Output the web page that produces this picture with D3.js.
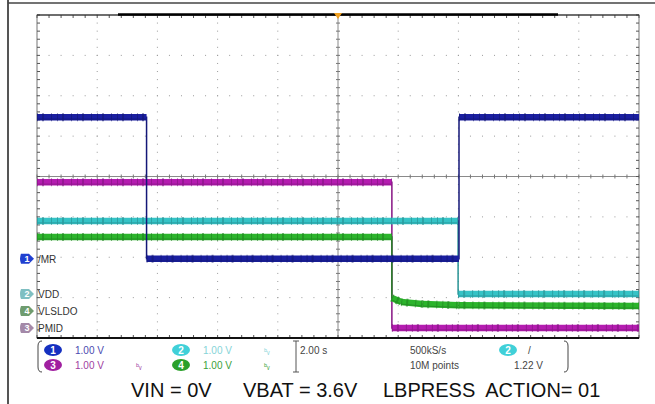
<!DOCTYPE html>
<html>
<head>
<meta charset="utf-8">
<script src="https://cdn.jsdelivr.net/npm/d3@7"></script>
<style>
  body { margin: 0; background: #fff; }
  svg { display: block; }
  text { white-space: pre; }
</style>
</head>
<body>
<svg id="scope"></svg>
<script>
// scope settings
var timePerDiv = 2;      // s/div
var voltsPerDiv = 1;     // V/div, all four channels

// trace points : time (s) and volts, per channel
var ch1Times = [-10, -6.36, -6.36, 4.02, 4.02, 10];
var ch1Volts = [3.51, 3.51, 0, 0, 3.51, 3.51];
var ch2Times = [-10, 3.99, 3.99, 10];
var ch2Volts = [1.81, 1.81, 0, 0];
var ch3Times = [-10, 1.79, 1.79, 10];
var ch3Volts = [3.61, 3.61, 0, 0];
var ch4Times = [-10, 1.79, 1.79, 2.1, 2.8, 4.0, 10];
var ch4Volts = [1.83, 1.83, 0.32, 0.22, 0.17, 0.14, 0.12];

// ground markers (divisions from centre) and names
var channelIds = [1, 2, 4, 3];
var channelNames = ["/MR", "VDD", "VLSLDO", "PMID"];
var channelOffsets = [-2.04, -2.91, -3.33, -3.75];

var captions = ["VIN = 0V", "VBAT = 3.6V", "LBPRESS  ACTION= 01"];

var W = 655, H = 404;
var svg = d3.select("#scope").attr("width", W).attr("height", H);

var pL = 37, pR = 639, pT = 15, pB = 338;
var x = d3.scaleLinear().domain([-5 * timePerDiv, 5 * timePerDiv]).range([pL, pR]);
var y = d3.scaleLinear().domain([-4, 4]).range([pB, pT]);

var colors = {1: "#1a1fa0", 2: "#35c3c6", 3: "#b41cb0", 4: "#2cb42c"};
var pale = {1: "#2040d0", 2: "#7fbfc2", 3: "#a489a8", 4: "#6f9c6f"};
var txtCol = {1: "#4a4ab0", 2: "#86d4d8", 3: "#a040a0", 4: "#3a9f3a"};

// outer frame of the screenshot
svg.append("line").attr("x1", 8).attr("x2", 8).attr("y1", 0).attr("y2", H)
    .attr("stroke", "#555").attr("stroke-width", 2);
svg.append("line").attr("x1", 8).attr("x2", W).attr("y1", 3).attr("y2", 3)
    .attr("stroke", "#444").attr("stroke-width", 1.5);

// graticule dots
var g = svg.append("g");
var majX = d3.range(-4, 5).filter(function(d){ return d != 0; });
var majY = d3.range(-3, 4).filter(function(d){ return d != 0; });
var minorY = d3.range(-4, 4.01, 0.2);
var minorX = d3.range(-5, 5.01, 0.2);
majX.forEach(function(dx){
    g.selectAll(null).data(minorY).enter().append("rect")
        .attr("x", x(dx * timePerDiv) - 0.5).attr("y", function(d){ return y(d) - 0.5; })
        .attr("width", 1).attr("height", 1).attr("fill", "#9a9a9a");
});
majY.forEach(function(dy){
    g.selectAll(null).data(minorX).enter().append("rect")
        .attr("x", function(d){ return x(d * timePerDiv) - 0.5; }).attr("y", y(dy) - 0.5)
        .attr("width", 1).attr("height", 1).attr("fill", "#9a9a9a");
});

// centre axes with ticks
g.append("line").attr("x1", pL).attr("x2", pR).attr("y1", y(0)).attr("y2", y(0))
    .attr("stroke", "#8a8a8a").attr("stroke-width", 1);
g.append("line").attr("x1", x(0)).attr("x2", x(0)).attr("y1", pT).attr("y2", pB)
    .attr("stroke", "#8a8a8a").attr("stroke-width", 1);
g.selectAll(null).data(minorX).enter().append("line")
    .attr("x1", function(d){ return x(d * timePerDiv); }).attr("x2", function(d){ return x(d * timePerDiv); })
    .attr("y1", y(0) - 2).attr("y2", y(0) + 2).attr("stroke", "#777");
g.selectAll(null).data(minorY).enter().append("line")
    .attr("y1", function(d){ return y(d); }).attr("y2", function(d){ return y(d); })
    .attr("x1", x(0) - 2).attr("x2", x(0) + 2).attr("stroke", "#777");

// border with inner ticks
g.append("rect").attr("x", pL).attr("y", pT).attr("width", pR - pL).attr("height", pB - pT)
    .attr("fill", "none").attr("stroke", "#777").attr("stroke-width", 1);
g.selectAll(null).data(minorY).enter().append("line")
    .attr("y1", function(d){ return y(d); }).attr("y2", function(d){ return y(d); })
    .attr("x1", pL).attr("x2", pL + 3).attr("stroke", "#555");
g.selectAll(null).data(minorY).enter().append("line")
    .attr("y1", function(d){ return y(d); }).attr("y2", function(d){ return y(d); })
    .attr("x1", pR - 3).attr("x2", pR).attr("stroke", "#555");
g.selectAll(null).data(minorX).enter().append("line")
    .attr("x1", function(d){ return x(d * timePerDiv); }).attr("x2", function(d){ return x(d * timePerDiv); })
    .attr("y1", pT).attr("y2", pT + 3).attr("stroke", "#555");
g.selectAll(null).data(minorX).enter().append("line")
    .attr("x1", function(d){ return x(d * timePerDiv); }).attr("x2", function(d){ return x(d * timePerDiv); })
    .attr("y1", pB - 3).attr("y2", pB).attr("stroke", "#555");
g.append("line").attr("x1", pL).attr("x2", pR).attr("y1", pT).attr("y2", pT)
    .attr("stroke", "#222").attr("stroke-width", 1.2);
g.append("line").attr("x1", pL).attr("x2", pR).attr("y1", pB).attr("y2", pB)
    .attr("stroke", "#111").attr("stroke-width", 2);

// record view bar and trigger marker
svg.append("line").attr("x1", 118).attr("x2", 558).attr("y1", pT - 0.5).attr("y2", pT - 0.5)
    .attr("stroke", "#000").attr("stroke-width", 2.5);
svg.append("path")
    .attr("d", "M" + (x(0) - 4) + "," + (pT - 2) + "L" + (x(0) + 4) + "," + (pT - 2) + "L" + x(0) + "," + (pT + 4) + "Z")
    .attr("fill", "#f0a020");

// traces
var traces = [
    {id: 3, t: ch3Times, v: ch3Volts, off: -3.75},
    {id: 4, t: ch4Times, v: ch4Volts, off: -3.33},
    {id: 2, t: ch2Times, v: ch2Volts, off: -2.91},
    {id: 1, t: ch1Times, v: ch1Volts, off: -2.04}
];
var line = d3.line().x(function(d){ return x(d[0]); }).y(function(d){ return y(d[1]); });
var tg = svg.append("g");
traces.forEach(function(tr){
    var pts = tr.t.map(function(t, i){ return [t, tr.off + tr.v[i] / voltsPerDiv]; });
    // thin full trace (edges)
    tg.append("path").attr("d", line(pts)).attr("fill", "none")
        .attr("stroke", d3.color(colors[tr.id]).darker(0.8)).attr("stroke-width", 1.5);
    // thick noisy bands on the flat parts
    for (var i = 0; i < pts.length - 1; i++) {
        if (pts[i][0] == pts[i + 1][0]) continue;
        var seg = [pts[i], pts[i + 1]];
        tg.append("path").attr("d", line(seg)).attr("fill", "none")
            .attr("stroke", colors[tr.id]).attr("stroke-width", 6.5);
        tg.append("path").attr("d", line(seg)).attr("fill", "none")
            .attr("stroke", d3.color(colors[tr.id]).darker(1)).attr("stroke-width", 8)
            .attr("stroke-dasharray", "1,4,2,7,1,5").attr("opacity", 0.55);
        tg.append("path").attr("d", line(seg)).attr("fill", "none")
            .attr("stroke", d3.color(colors[tr.id]).darker(0.6)).attr("stroke-width", 1)
            .attr("transform", "translate(0,2)");
    }
});

// channel ground markers on the left
var mk = svg.append("g");
channelIds.forEach(function(id, i){
    var yy = y(channelOffsets[i]);
    var x0 = 19;
    mk.append("path")
        .attr("d", "M" + (x0 + 2) + "," + (yy - 5) + "L" + (x0 + 10) + "," + (yy - 5) + "L" + (x0 + 15) + "," + yy +
            "L" + (x0 + 10) + "," + (yy + 5) + "L" + (x0 + 2) + "," + (yy + 5) + "Q" + x0 + "," + yy + " " + (x0 + 2) + "," + (yy - 5) + "Z")
        .attr("fill", pale[id]);
    mk.append("text").attr("x", x0 + 8).attr("y", yy + 3.5).attr("text-anchor", "middle")
        .attr("font-family", "Liberation Sans, Arial").attr("font-size", 9).attr("font-weight", "bold")
        .attr("fill", "#fff").text(id);
    mk.append("text").attr("x", pL + 1).attr("y", yy + 4)
        .attr("font-family", "Liberation Sans, Arial").attr("font-size", 10)
        .attr("fill", "#333").text(channelNames[i]);
});

// readout area
var rd = svg.append("g").attr("font-family", "Liberation Sans, Arial").attr("font-size", 10);
function bracket(xp, dir){
    rd.append("path")
        .attr("d", "M" + (xp + 4 * dir) + ",341 Q" + xp + ",341 " + xp + ",346 L" + xp + ",367 Q" + xp + ",372 " + (xp + 4 * dir) + ",372")
        .attr("fill", "none").attr("stroke", "#444").attr("stroke-width", 1);
}
bracket(38, 1);
bracket(568, -1);
function badge(cx, cy, id, fill){
    rd.append("ellipse").attr("cx", cx).attr("cy", cy).attr("rx", 9).attr("ry", 6).attr("fill", fill);
    rd.append("text").attr("x", cx).attr("y", cy + 4).attr("text-anchor", "middle")
        .attr("fill", "#fff").attr("font-weight", "bold").text(id);
}
var scaleText = d3.format(".2f")(voltsPerDiv) + " V";
badge(53, 350, 1, "#1530c0");
rd.append("text").attr("x", 75).attr("y", 354).attr("fill", txtCol[1]).text(scaleText);
badge(53, 365, 3, "#a020a0");
rd.append("text").attr("x", 75).attr("y", 369).attr("fill", txtCol[3]).text(scaleText);
rd.append("text").attr("x", 136).attr("y", 369).attr("fill", txtCol[3]).attr("font-size", 8).text("ᵇᵥ");
badge(181, 350, 2, "#40d0d8");
rd.append("text").attr("x", 203).attr("y", 354).attr("fill", txtCol[2]).text(scaleText);
rd.append("text").attr("x", 264).attr("y", 354).attr("fill", txtCol[2]).attr("font-size", 8).text("ᵇᵥ");
badge(181, 365, 4, "#2aa02a");
rd.append("text").attr("x", 203).attr("y", 369).attr("fill", txtCol[4]).text(scaleText);
rd.append("text").attr("x", 264).attr("y", 369).attr("fill", txtCol[4]).attr("font-size", 8).text("ᵇᵥ");

// timebase divider
rd.append("path").attr("d", "M293,341 L299,341 M296,341 L296,372 M293,372 L299,372")
    .attr("fill", "none").attr("stroke", "#555").attr("stroke-width", 1);
rd.append("text").attr("x", 300).attr("y", 354).attr("fill", "#444").text(d3.format(".2f")(timePerDiv) + " s");
rd.append("text").attr("x", 410).attr("y", 354).attr("fill", "#444").text("500kS/s");
rd.append("text").attr("x", 410).attr("y", 369).attr("fill", "#444").text("10M points");
badge(508, 350, 2, "#40d0d8");
rd.append("text").attr("x", 528).attr("y", 354).attr("fill", "#444").text("/");
rd.append("text").attr("x", 514).attr("y", 369).attr("fill", "#444").text("1.22 V");

// caption
var capX = [131, 243, 383];
svg.selectAll(".cap").data(captions).enter().append("text")
    .attr("class", "cap")
    .attr("x", function(d, i){ return capX[i]; })
    .attr("y", 397)
    .attr("font-family", "Liberation Sans, Arial")
    .attr("font-size", 20)
    .attr("fill", "#111")
    .text(function(d){ return d; });
</script>
</body>
</html>
